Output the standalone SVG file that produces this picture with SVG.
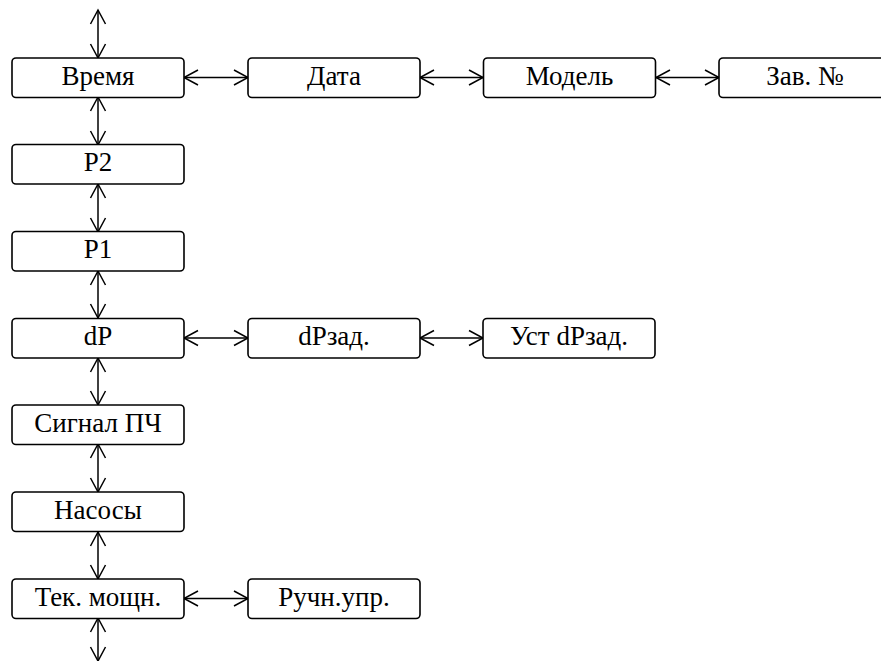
<svg xmlns="http://www.w3.org/2000/svg" width="881" height="661" viewBox="0 0 881 661">
<defs>
<style>
.box{fill:#fff;stroke:#000;stroke-width:1.6}
.lbl{font-family:"Liberation Serif","Times New Roman",serif;font-size:27px;fill:#000;text-anchor:middle}
.con{stroke:#000;stroke-width:1.5;fill:none;marker-start:url(#ah);marker-end:url(#ah)}
</style>
<marker id="ah" markerUnits="userSpaceOnUse" markerWidth="18" markerHeight="18" viewBox="0 0 18 18" refX="16" refY="9" orient="auto-start-reverse">
<path d="M2,1.5 L16,9 L2,16.5" fill="none" stroke="#000" stroke-width="1.5"/>
</marker>
</defs>
<rect width="881" height="661" fill="#fff"/>
<g id="connectors">
<line class="con" x1="98" y1="10" x2="98" y2="58"/>
<line class="con" x1="98" y1="97" x2="98" y2="145"/>
<line class="con" x1="98" y1="184" x2="98" y2="232"/>
<line class="con" x1="98" y1="271" x2="98" y2="318"/>
<line class="con" x1="98" y1="358" x2="98" y2="405"/>
<line class="con" x1="98" y1="444" x2="98" y2="492"/>
<line class="con" x1="98" y1="532" x2="98" y2="579"/>
<line class="con" x1="98" y1="618" x2="98" y2="661"/>
<line class="con" x1="184" y1="77.5" x2="248" y2="77.5"/>
<line class="con" x1="420" y1="77.5" x2="483" y2="77.5"/>
<line class="con" x1="656" y1="77.5" x2="719" y2="77.5"/>
<line class="con" x1="184" y1="338" x2="248" y2="338"/>
<line class="con" x1="420" y1="338" x2="483" y2="338"/>
<line class="con" x1="184" y1="598.5" x2="248" y2="598.5"/>
</g>
<g font-family="'Liberation Serif','Times New Roman',serif" font-size="27">
<g id="n-vremya"><rect class="box" x="12" y="58" width="172" height="39.5" rx="4"/><text class="lbl" x="98" y="84.5">Время</text></g>
<g id="n-data"><rect class="box" x="248" y="58" width="172" height="39.5" rx="4"/><text class="lbl" x="334" y="84.5">Дата</text></g>
<g id="n-model"><rect class="box" x="483.5" y="58" width="172" height="39.5" rx="4"/><text class="lbl" x="569.5" y="84.5">Модель</text></g>
<g id="n-zav"><rect class="box" x="719" y="58" width="172" height="39.5" rx="4"/><text class="lbl" x="805" y="84.5">Зав. №</text></g>
<g id="n-p2"><rect class="box" x="12" y="144.5" width="172" height="39.5" rx="4"/><text class="lbl" x="98" y="171">P2</text></g>
<g id="n-p1"><rect class="box" x="12" y="231.5" width="172" height="39.5" rx="4"/><text class="lbl" x="98" y="258">P1</text></g>
<g id="n-dp"><rect class="box" x="12" y="318.5" width="172" height="39.5" rx="4"/><text class="lbl" x="98" y="345">dP</text></g>
<g id="n-dpzad"><rect class="box" x="248" y="318.5" width="172" height="39.5" rx="4"/><text class="lbl" x="334" y="345">dPзад.</text></g>
<g id="n-ustdpzad"><rect class="box" x="483" y="318.5" width="172" height="39.5" rx="4"/><text class="lbl" x="569" y="345">Уст dPзад.</text></g>
<g id="n-signal"><rect class="box" x="12" y="405" width="172" height="39.5" rx="4"/><text class="lbl" x="98" y="431.5">Сигнал ПЧ</text></g>
<g id="n-nasosy"><rect class="box" x="12" y="492" width="172" height="39.5" rx="4"/><text class="lbl" x="98" y="518.5">Насосы</text></g>
<g id="n-tek"><rect class="box" x="12" y="579" width="172" height="39.5" rx="4"/><text class="lbl" x="98" y="605.5">Тек. мощн.</text></g>
<g id="n-ruchn"><rect class="box" x="248" y="579" width="172" height="39.5" rx="4"/><text class="lbl" x="334" y="605.5">Ручн.упр.</text></g>
</g>
</svg>
